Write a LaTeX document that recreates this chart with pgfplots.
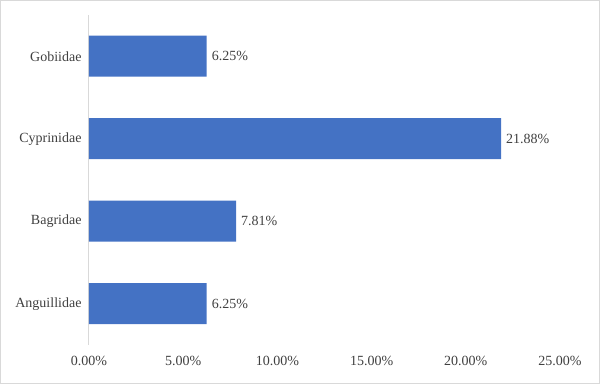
\documentclass[border=0pt]{standalone}
\usepackage{pgfplots}
\pgfplotsset{compat=1.18}
\usepackage{fontspec}
\setmainfont{Liberation Serif}
\definecolor{barc}{HTML}{4472C4}
\definecolor{txt}{HTML}{404040}
\definecolor{frm}{HTML}{D9D9D9}
\begin{document}
\begin{tikzpicture}[font=\fontsize{14bp}{16bp}\selectfont]
\begin{axis}[name=ax, scale only axis, width=471bp, height=330bp,
  xmin=0, xmax=25, ymin=-0.5, ymax=3.5,
  xbar, bar width=41bp,
  /pgf/number format/assume math mode=true,
  ytick={0,1,2,3}, yticklabels={Anguillidae,Bagridae\hspace{3.5bp},Cyprinidae,Gobiidae},
  xtick={0,5,10,15,20,25},
  xticklabel={\pgfmathprintnumber[fixed,fixed zerofill,precision=2]{\tick}\%},
  axis lines=left,
  x axis line style={draw=none},
  y axis line style={-, draw=frm, line width=1bp},
  major tick length=0pt,
  tick style={draw=none},
  tick label style={text=txt},
  xticklabel style={yshift=-8bp},
  yticklabel style={xshift=-4bp},
  nodes near coords={\pgfmathprintnumber[fixed,fixed zerofill,precision=2]{\pgfplotspointmeta}\%},
  nodes near coords style={text=txt, anchor=west, xshift=1.5bp},
  clip=false,
]
\addplot[fill=barc, draw=none] coordinates {(6.25,0) (7.81,1) (21.88,2) (6.25,3)};
\end{axis}
\draw[frm, line width=1bp] ([xshift=-88.5bp,yshift=-38.5bp]ax.south west) rectangle ([xshift=39.5bp,yshift=14.5bp]ax.north east);
\end{tikzpicture}
\end{document}
